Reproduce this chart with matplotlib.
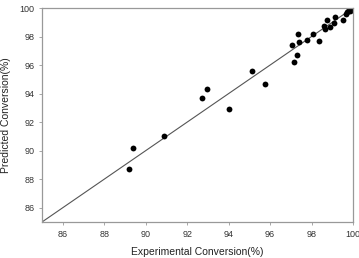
import matplotlib
matplotlib.use("Agg")
import matplotlib.pyplot as plt

# experimental vs predicted conversion (%)
experimental = [89.22, 89.37, 90.89, 92.72, 92.96, 94.03, 95.13, 95.75,
                97.06, 97.14, 97.30, 97.36, 97.41, 97.78, 98.07, 98.37,
                98.60, 98.66, 98.74, 98.87, 99.08, 99.13, 99.54, 99.64,
                99.72, 99.80, 99.85, 99.90, 99.95, 100.0]
predicted = [88.69, 90.16, 91.03, 93.71, 94.30, 92.92, 95.56, 94.67,
             97.43, 96.24, 96.73, 98.18, 97.59, 97.73, 98.15, 97.71,
             98.71, 98.53, 99.18, 98.67, 98.95, 99.37, 99.13, 99.58,
             99.75, 99.90, 99.80, 100.0, 99.92, 99.85]
ticks = [86, 88, 90, 92, 94, 96, 98, 100]

plt.rcParams["font.family"] = ["Liberation Sans", "DejaVu Sans"]

fig = plt.figure(figsize=(3.59, 2.58), dpi=100)
ax = fig.add_axes([42 / 359, 36 / 258, 311 / 359, 214 / 258])

ax.plot([85, 100], [85, 100], color="#555555", lw=0.8, zorder=1)
ax.plot(experimental, predicted, "o", color="black", markersize=4.2,
        markeredgewidth=0, zorder=2)

ax.set_xlim(85, 100)
ax.set_ylim(85, 100)
ax.set_xticks(ticks)
ax.set_yticks(ticks)
for s in ax.spines.values():
    s.set_color("#999999")
    s.set_linewidth(0.9)
ax.tick_params(direction="out", length=2.5, width=0.6, color="#999999",
               labelsize=6.5, labelcolor="#333333", pad=3)
ax.set_xlabel("Experimental Conversion(%)", fontsize=7.5, color="#222222", labelpad=6)
ax.set_ylabel("Predicted Conversion(%)", fontsize=7.5, color="#222222", labelpad=6)

fig.savefig("out.png", dpi=100)
